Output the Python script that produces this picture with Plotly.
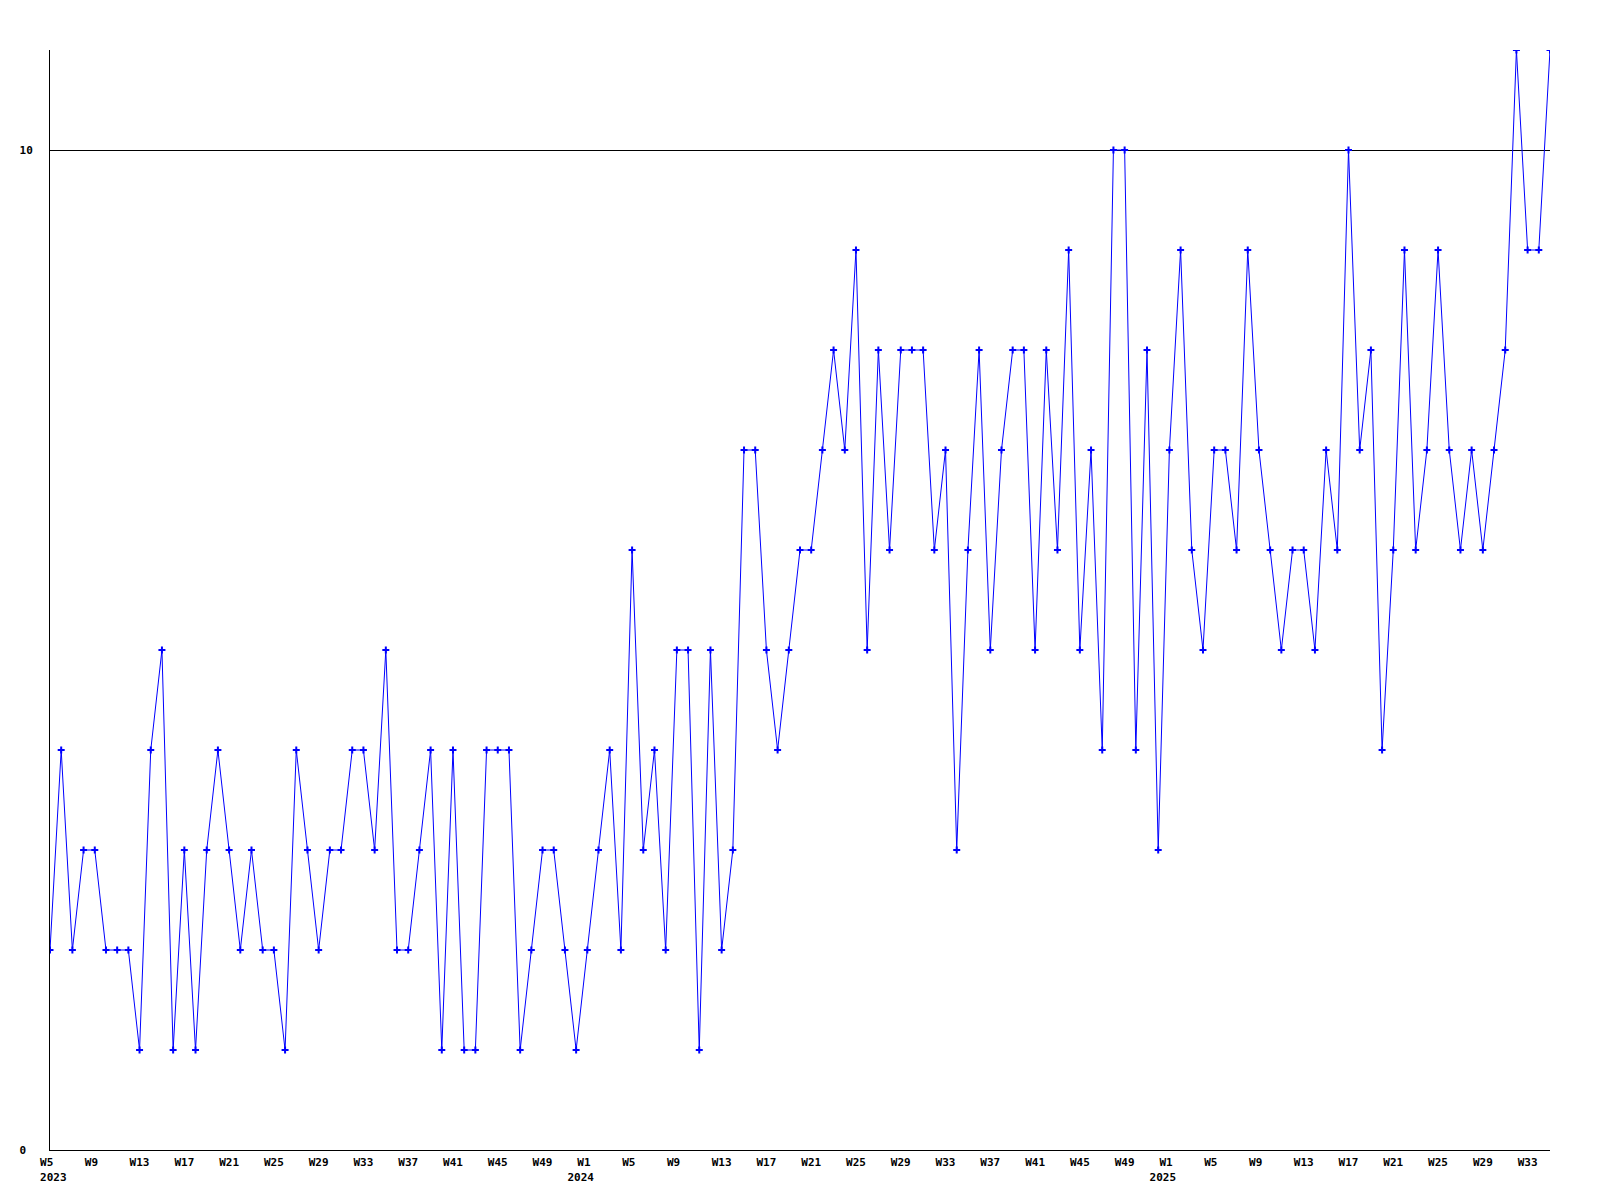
import plotly.graph_objects as go

# ---- data -------------------------------------------------------------
start_year = 2023
start_week = 5
weeks_per_year = {2023: 52, 2024: 52, 2025: 52}
n_points = 135

values = [2, 4, 2, 3, 3, 2, 2, 2, 1, 4,
          5, 1, 3, 1, 3, 4, 3, 2, 3, 2,
          2, 1, 4, 3, 2, 3, 3, 4, 4, 3,
          5, 2, 2, 3, 4, 1, 4, 1, 1, 4,
          4, 4, 1, 2, 3, 3, 2, 1, 2, 3,
          4, 2, 6, 3, 4, 2, 5, 5, 1, 5,
          2, 3, 7, 7, 5, 4, 5, 6, 6, 7,
          8, 7, 9, 5, 8, 6, 8, 8, 8, 6,
          7, 3, 6, 8, 5, 7, 8, 8, 5, 8,
          6, 9, 5, 7, 4, 10, 10, 4, 8, 3,
          7, 9, 6, 5, 7, 7, 6, 9, 7, 6,
          5, 6, 6, 5, 7, 6, 10, 7, 8, 4,
          6, 9, 6, 7, 9, 7, 6, 7, 6, 7,
          8, 11, 9, 9, 11]

y_tick_vals = [0, 10]
y_tick_text = ["0\u00a0", "10"]

# categories: ISO weeks
categories = []
years_of = []
weeknums = []
y, w = start_year, start_week
for _ in range(n_points):
    categories.append(f"{y}-W{w:02d}")
    years_of.append(y)
    weeknums.append(w)
    w += 1
    if w > weeks_per_year[y]:
        w = 1
        y += 1

# tick labels every 4 weeks, with year under first tick / week 1
tick_vals = []
tick_text = []
for i in range(0, n_points, 4):
    lab = f"W{weeknums[i]}"
    if len(lab) == 2:
        lab += "\u00a0"
    if i == 0:
        lab += "<br>\u00a0" + str(years_of[i])
    elif weeknums[i] == 1:
        lab += "<br>" + str(years_of[i]) + "\u00a0\u00a0"
    tick_vals.append(categories[i])
    tick_text.append(lab)

# ---- figure -----------------------------------------------------------
font = dict(family="DejaVu Sans Mono", size=11, color="black", weight="bold")

fig = go.Figure()
fig.add_trace(go.Scatter(
    x=categories, y=values,
    mode="lines+markers",
    line=dict(color="#0000ff", width=1),
    marker=dict(symbol="cross-thin", size=5, color="#0000ff",
                line=dict(color="#0000ff", width=2)),
    hoverinfo="x+y",
))

fig.update_layout(
    width=1584, height=1184,
    margin=dict(l=42, r=42, t=42, b=42, autoexpand=False),
    paper_bgcolor="white", plot_bgcolor="white",
    showlegend=False,
    font=font,
)
fig.update_xaxes(
    type="category", range=[0, n_points - 1],
    tickmode="array", tickvals=tick_vals, ticktext=tick_text,
    showgrid=False, zeroline=False,
    showline=True, linecolor="black", linewidth=1,
    ticks="", tickfont=font, tickangle=0, ticklabelstandoff=2,
)
fig.update_yaxes(
    range=[0, 11],
    tickmode="array", tickvals=y_tick_vals, ticktext=y_tick_text,
    showgrid=True, gridcolor="black", gridwidth=1,
    zeroline=False,
    showline=True, linecolor="black", linewidth=1,
    ticks="", tickfont=font, ticklabelstandoff=14,
)

fig.write_html("out.html")
